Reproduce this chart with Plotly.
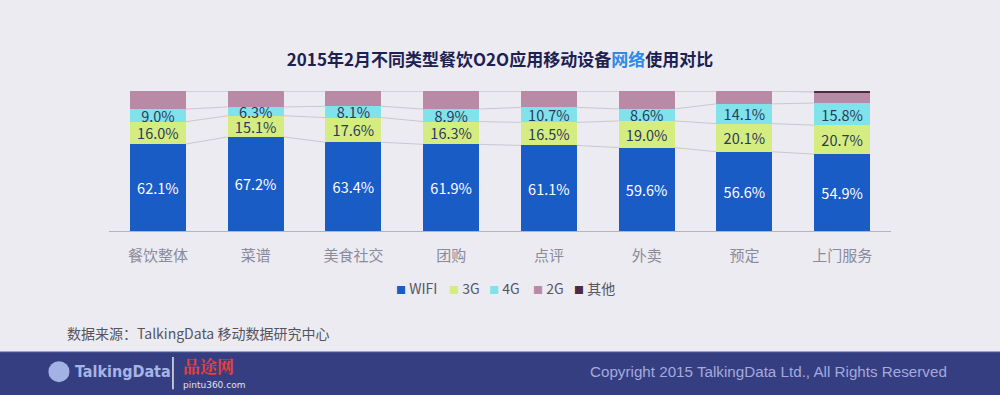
import plotly.graph_objects as go

categories = ["餐饮整体", "菜谱", "美食社交", "团购", "点评", "外卖", "预定", "上门服务"]
wifi = [62.1, 67.2, 63.4, 61.9, 61.1, 59.6, 56.6, 54.9]
g3 = [16.0, 15.1, 17.6, 16.3, 16.5, 19.0, 20.1, 20.7]
g4 = [9.0, 6.3, 8.1, 8.9, 10.7, 8.6, 14.1, 15.8]
g2 = [12.9, 11.4, 10.9, 12.9, 11.7, 12.8, 9.2, 7.8]
other = [0.0, 0.0, 0.0, 0.0, 0.0, 0.0, 0.0, 0.8]

series_names = ["WIFI", "3G", "4G", "2G", "其他"]
series_vals = [wifi, g3, g4, g2, other]
series_colors = ["#1a5cc6", "#d5ed80", "#80e2ea", "#b98aa6", "#4a2a44"]
label_colors = ["#ffffff", "#2b3a5a", "#2b3a5a", None, None]
legend_px = [394, 447, 487, 531, 572]  # left edge of each legend item (pixels)

BG = "#ecebf1"
FONT = "Noto Sans CJK SC"
bar_w = 0.573
xs = list(range(len(categories)))
PL, PW = 109, 782  # plot area left and width in pixels

fig = go.Figure()

# series lines connecting tops of each segment between neighbouring bars
cum = [0.0] * len(categories)
for vals in series_vals:
    cum = [c + v for c, v in zip(cum, vals)]
    lx, ly = [], []
    for i in range(len(categories) - 1):
        lx += [i + bar_w / 2, i + 1 - bar_w / 2, None]
        ly += [cum[i], cum[i + 1], None]
    fig.add_trace(go.Scatter(x=lx, y=ly, mode="lines", line=dict(color="#c9c8d2", width=1),
                             showlegend=False, hoverinfo="skip"))

for name, vals, col, lc in zip(series_names, series_vals, series_colors, label_colors):
    kw = {}
    if lc:
        kw = dict(text=[f"{v:.1f}%" for v in vals], textposition="inside",
                  insidetextanchor="middle", textfont=dict(color=lc, size=14.5, family=FONT),
                  constraintext="none")
    fig.add_trace(go.Bar(x=xs, y=vals, name=name, marker=dict(color=col, line=dict(width=0)),
                         width=bar_w, showlegend=False, **kw))

# footer band
fig.add_shape(type="rect", xref="paper", yref="paper", x0=-0.15, x1=1.15, y0=-0.864, y1=-1.2,
              fillcolor="#363e82", line=dict(width=0), layer="below")
fig.add_shape(type="line", xref="paper", yref="paper", x0=-0.15, x1=1.15, y0=-0.862, y1=-0.862,
              line=dict(color="#8a90c0", width=1))
# separator in footer
fig.add_shape(type="line", xref="paper", yref="paper", x0=0.0818, x1=0.0818, y0=-0.90, y1=-1.13,
              line=dict(color="#e8e8f0", width=1.5))
# simple logo icon
fig.add_shape(type="circle", xref="paper", yref="paper", x0=-0.0775, x1=-0.0505, y0=-0.93, y1=-1.08,
              fillcolor="#a3b2e4", line=dict(width=0))

annotations = [
    dict(text="数据来源：TalkingData 移动数据研究中心", x=-0.0563, y=-0.729, xanchor="left", yanchor="middle",
         font=dict(size=14, color="#555560", family=FONT)),
    dict(text="<b>TalkingData</b>", x=-0.0455, y=-1.0, xanchor="left", yanchor="middle",
         font=dict(size=16, color="#a6b4e6", family="DejaVu Sans Condensed, Liberation Sans Narrow")),
    dict(text="<b>品途网</b>", x=0.0925, y=-0.96, xanchor="left", yanchor="middle",
         font=dict(size=17, color="#e8403c", family="Noto Serif CJK SC, Noto Sans CJK SC")),
    dict(text="pintu360.com", x=0.0925, y=-1.1, xanchor="left", yanchor="middle",
         font=dict(size=9, color="#e0e0ee", family="DejaVu Sans")),
    dict(text="Copyright 2015 TalkingData Ltd., All Rights Reserved", x=1.0742, y=-1.0,
         xanchor="right", yanchor="middle",
         font=dict(size=15.2, color="#a3aadd", family="Liberation Sans")),
]
# legend (compact, as in the reference)
for name, col, px in zip(series_names, series_colors, legend_px):
    annotations.append(dict(
        text=f"<span style='color:{col};font-size:10px'>■</span> {name}",
        x=(px - PL) / PW, y=(231 - 288) / 140, xanchor="left", yanchor="middle",
        font=dict(size=14, color="#555565", family=FONT)))
for a in annotations:
    a.update(xref="paper", yref="paper", showarrow=False)

fig.update_layout(
    width=1000, height=395,
    margin=dict(l=PL, r=1000 - PL - PW, t=91, b=164),
    paper_bgcolor=BG, plot_bgcolor=BG,
    barmode="stack",
    title=dict(text="<b>2015年2月不同类型餐饮O2O应用移动设备<span style='color:#2f8ae6'>网络</span>使用对比</b>",
               x=0.5, xanchor="center", y=1 - 60 / 395, yanchor="middle",
               font=dict(size=17, color="#1c2152", family=FONT)),
    xaxis=dict(range=[-0.5, 7.5], tickvals=xs, ticktext=categories, showgrid=False, zeroline=False,
               showline=True, linecolor="#b4b3be", linewidth=1, ticks="outside", ticklen=11,
               tickcolor=BG, tickfont=dict(size=15, color="#8a8a9a", family=FONT), fixedrange=True),
    yaxis=dict(range=[0, 100], visible=False, fixedrange=True),
    annotations=annotations,
    showlegend=False,
)
fig.write_html("out.html", config={"displayModeBar": False},
               post_script="document.body.style.margin='0px';document.body.style.overflow='hidden';")
